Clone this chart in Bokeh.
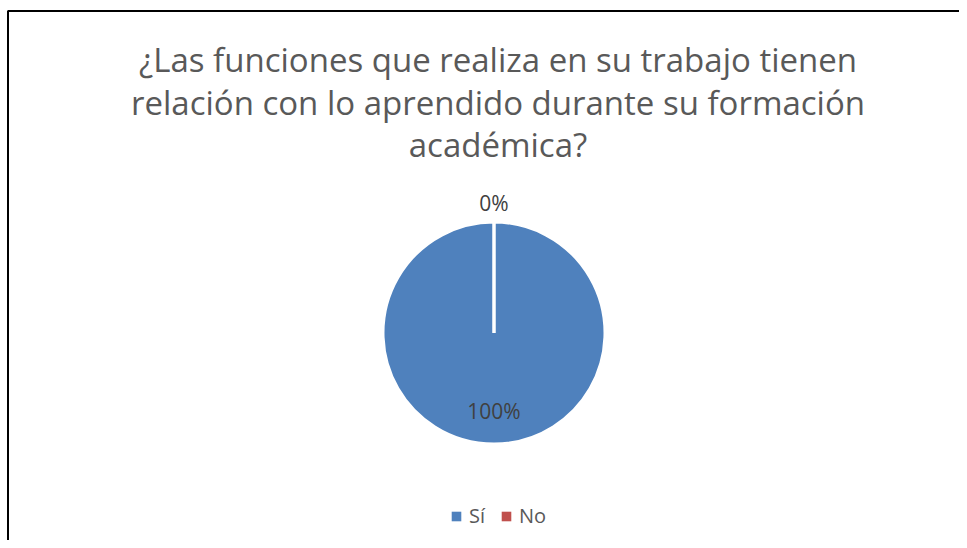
import math
from bokeh.plotting import figure
from bokeh.models import Range1d, Legend, LegendItem, ColumnDataSource
from bokeh.core.properties import value
from bokeh.embed import file_html
from bokeh.resources import INLINE

# ---- data ----
title_lines = ["¿Las funciones que realiza en su trabajo tienen",
               "relación con lo aprendido durante su formación",
               "académica?"]
categories = ["Sí", "No"]
values = [100, 0]
colors = ["#4F81BD", "#C0504D"]

# ---- layout ----
W, H = 959, 540
FONT = "Open Sans"
cx, cy, R = 493.5, H - 332.5, 111
label_dist = [78, 130]          # label distance from centre (inside / outside)
EPS = 1e-4

p = figure(width=W, height=H, output_backend="svg", toolbar_location=None,
           x_range=Range1d(0, W), y_range=Range1d(0, H),
           min_border=0, outline_line_color=None, tools="")
p.axis.visible = False
p.grid.visible = False
p.background_fill_color = "white"
p.border_fill_color = "white"

# chart border (only left and top edges are visible in the reference)
bx, by = 7.5, H - 10.5
p.line(x=[bx, bx, W], y=[0, by, by], line_color="black", line_width=2)

# title
title_base = [59, 101.5, 144]
p.text(x=[497.5] * len(title_lines), y=[H - b for b in title_base], text=title_lines,
       text_font=value(FONT), text_font_size="33px", text_color="#595959",
       text_align="center", text_baseline="alphabetic")

# pie
total = sum(values)
starts, ends, mids = [], [], []
a = math.pi / 2
for v in values:
    span = min(max(2 * math.pi * v / total, EPS), 2 * math.pi - EPS)
    starts.append(a)
    ends.append(a - span)
    mids.append(a - span / 2)
    a -= span

src = ColumnDataSource(dict(start=starts, end=ends, color=colors, cat=categories))
# plain wedges (no outline) -> used for the legend squares, hidden under the main pie
proxy = p.wedge(x=cx, y=cy, radius=R - 2, start_angle="start", end_angle="end",
                direction="clock", fill_color="color", line_color=None, source=src)
wr = p.wedge(x=cx, y=cy, radius=R, start_angle="start", end_angle="end",
             direction="clock", fill_color="color", line_color="white",
             line_width=3, source=src)

# data labels
lab_txt = [f"{round(100 * v / total)}%" for v in values]
lx = [cx + d * math.cos(m) for d, m in zip(label_dist, mids)]
ly = [cy + d * math.sin(m) for d, m in zip(label_dist, mids)]
p.text(x=lx, y=ly, text=lab_txt, text_font=value(FONT), text_font_size="21px",
       text_color="#404040", text_align="center", text_baseline="middle")

legend = Legend(items=[LegendItem(label=c, renderers=[proxy], index=i)
                       for i, c in enumerate(categories)],
                orientation="horizontal", location=(450, 11),
                glyph_width=12, glyph_height=12, label_height=12, label_width=0,
                label_standoff=7, spacing=15, padding=0, margin=0,
                label_text_font=FONT, label_text_font_size="20px",
                label_text_color="#595959",
                background_fill_alpha=0, border_line_color=None)
p.add_layout(legend, "center")

open("out.html", "w").write(file_html(p, INLINE))
